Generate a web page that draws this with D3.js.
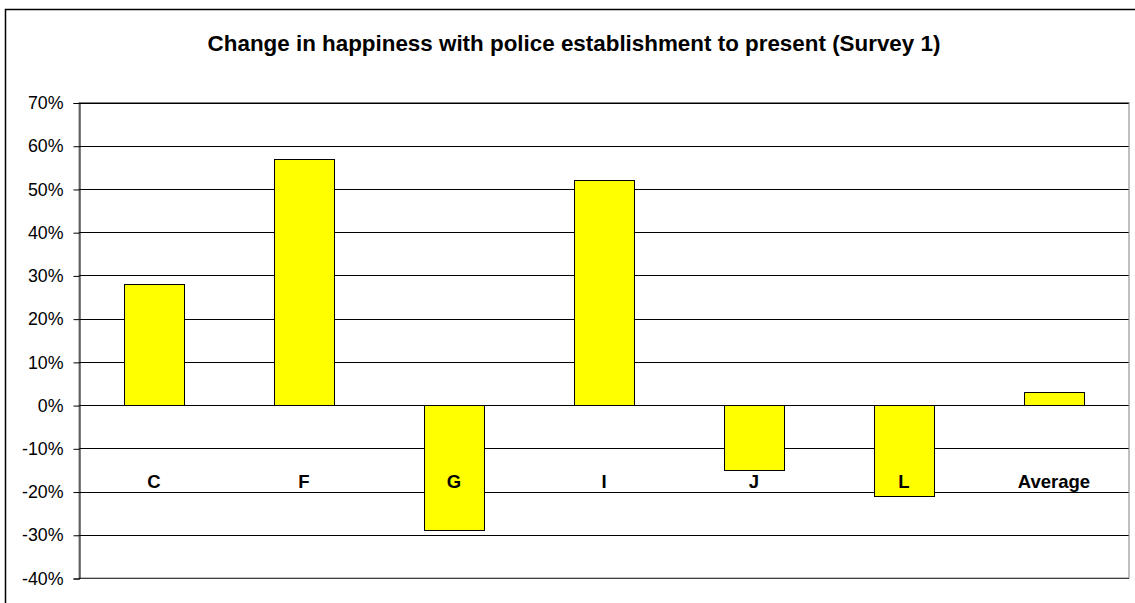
<!DOCTYPE html>
<html>
<head>
<meta charset="utf-8">
<script src="https://cdn.jsdelivr.net/npm/d3@7"></script>
<style>
  body { margin: 0; background: #fff; }
  text { font-family: "Liberation Sans", Arial, sans-serif; }
</style>
</head>
<body>
<svg width="1135" height="603"></svg>
<script>
// chart data
let categories = ["C", "F", "G", "I", "J", "L", "Average"];
let changes = [0.28, 0.57, -0.29, 0.52, -0.15, -0.21, 0.03];
let yTicks = [0.7, 0.6, 0.5, 0.4, 0.3, 0.2, 0.1, 0, -0.1, -0.2, -0.3, -0.4];
let chartTitle = "Change in happiness with police establishment to present (Survey 1)";

let svg = d3.select("svg");

// outer chart frame
svg.append("rect")
  .attr("x", 5.5).attr("y", 9.5)
  .attr("width", 1140).attr("height", 610)
  .attr("fill", "#fff").attr("stroke", "#000").attr("stroke-width", 1.5);

svg.append("text")
  .attr("x", 574).attr("y", 51)
  .attr("text-anchor", "middle")
  .attr("font-weight", "bold")
  .attr("font-size", 22.4)
  .text(chartTitle);

let margin = {top: 102.5, left: 79, right: 1129, bottom: 578};

let x = d3.scaleBand()
  .domain(categories)
  .range([margin.left, margin.right])
  .paddingInner(0.6)
  .paddingOuter(0.3);

let y = d3.scaleLinear()
  .domain([-0.4, 0.7])
  .range([margin.bottom, margin.top]);

// gridlines
svg.append("g")
  .selectAll("line")
  .data(yTicks)
  .enter().append("line")
    .attr("x1", margin.left).attr("x2", margin.right)
    .attr("y1", d => Math.round(y(d)) + 0.5)
    .attr("y2", d => Math.round(y(d)) + 0.5)
    .attr("stroke", "#000").attr("stroke-width", 1);

// plot area border
svg.append("rect")
  .attr("x", margin.left).attr("y", margin.top)
  .attr("width", margin.right - margin.left)
  .attr("height", margin.bottom - margin.top)
  .attr("fill", "none").attr("stroke", "#808080").attr("stroke-width", 1);

// bars
svg.append("g")
  .selectAll("rect")
  .data(categories)
  .enter().append("rect")
    .attr("x", d => Math.round(x(d)) + 0.5)
    .attr("width", x.bandwidth())
    .attr("y", (d, i) => Math.round(y(Math.max(0, changes[i]))) + 0.5)
    .attr("height", (d, i) => Math.abs(Math.round(y(changes[i])) - Math.round(y(0))))
    .attr("fill", "#ffff00")
    .attr("stroke", "#000").attr("stroke-width", 1);

// y axis, plain hyphen for negatives like the original
let pct = d => Math.round(d * 100) + "%";
let yAxis = svg.append("g")
  .attr("transform", "translate(" + (margin.left + 0.5) + ",0.5)")
  .call(d3.axisLeft(y).tickValues(yTicks).tickFormat(pct).tickSizeOuter(0).tickSize(6).tickPadding(10));
yAxis.select(".domain").attr("stroke", "#000");
yAxis.selectAll(".tick line").attr("stroke", "#000");
yAxis.selectAll(".tick text")
  .attr("font-family", "Liberation Sans, Arial, sans-serif")
  .attr("font-size", 17.8)
  .attr("fill", "#000");

// category labels sit at a fixed level near the bottom
svg.append("g")
  .selectAll("text")
  .data(categories)
  .enter().append("text")
    .attr("x", d => x(d) + x.bandwidth() / 2)
    .attr("y", 488)
    .attr("text-anchor", "middle")
    .attr("font-weight", "bold")
    .attr("font-size", 18.5)
    .text(d => d);
</script>
</body>
</html>
